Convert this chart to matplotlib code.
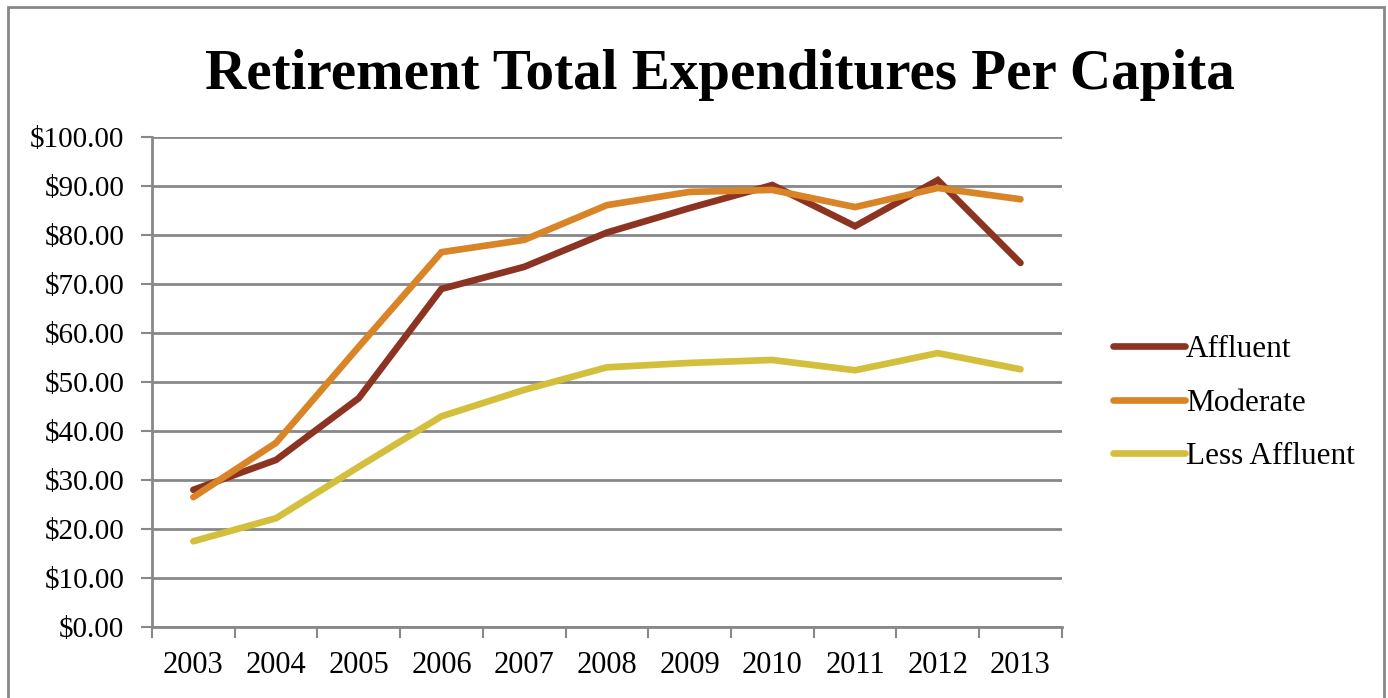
import matplotlib
matplotlib.use("Agg")
import matplotlib.pyplot as plt
from matplotlib.patches import Rectangle
from matplotlib.ticker import FuncFormatter, FixedLocator, NullFormatter

years = ["2003", "2004", "2005", "2006", "2007", "2008", "2009", "2010", "2011", "2012", "2013"]
affluent = [28.0, 34.1, 46.7, 69.0, 73.5, 80.5, 85.5, 90.2, 81.8, 91.2, 74.3]
moderate = [26.5, 37.6, 57.2, 76.5, 79.0, 86.1, 88.8, 89.2, 85.7, 89.6, 87.3]
less_affluent = [17.5, 22.2, 32.7, 43.0, 48.4, 53.0, 53.9, 54.5, 52.4, 55.9, 52.6]
series_names = ["Affluent", "Moderate", "Less Affluent"]
colors = ["#8C3322", "#DA8428", "#D4BF3C"]

plt.rcParams['font.family'] = ['Liberation Serif', 'DejaVu Serif']

fig = plt.figure(figsize=(13.88, 6.98), dpi=100)
fig.patch.set_facecolor("white")
fig.add_artist(Rectangle((0.006, -0.01), 0.991, 1.0, transform=fig.transFigure,
                         fill=False, edgecolor="#888888", linewidth=2))

ax = fig.add_axes([0.1095, 0.1017, 0.6555, 0.702])
x = list(range(len(years)))
for vals, name, c in zip([affluent, moderate, less_affluent], series_names, colors):
    ax.plot(x, vals, color=c, linewidth=4.8, solid_capstyle="round", solid_joinstyle="miter", label=name)

ax.set_xlim(-0.5, len(years) - 0.5)
ax.set_ylim(0, 100)
ax.set_yticks(range(0, 101, 10))
ax.yaxis.set_major_formatter(FuncFormatter(lambda v, p: f"${v:.2f}"))
ax.xaxis.set_major_locator(FixedLocator([i - 0.5 for i in range(len(years) + 1)]))
ax.xaxis.set_major_formatter(NullFormatter())
ax.xaxis.set_minor_locator(FixedLocator(x))
ax.set_xticklabels(years, minor=True)
ax.tick_params(axis="x", which="major", length=8, width=1.5, color="#888888", direction="out")
ax.tick_params(axis="x", which="minor", length=0, labelsize=22, pad=17)
ax.tick_params(axis="y", length=8, width=1.5, color="#888888", direction="out", labelsize=21, pad=12)
ax.grid(axis="y", color="#888888", linewidth=2)
ax.set_axisbelow(True)
for s in ["top", "right"]:
    ax.spines[s].set_visible(False)
for s in ["left", "bottom"]:
    ax.spines[s].set_color("#888888")
    ax.spines[s].set_linewidth(2)

fig.text(0.519, 0.893, "Retirement Total Expenditures Per Capita", ha="center", va="center",
         fontsize=41, fontweight="bold")

ax.legend(loc="center left", bbox_to_anchor=(1.025, 0.457), frameon=False, fontsize=22.5,
          handlelength=2.3, handletextpad=0.05, labelspacing=0.78)

fig.savefig("out.png", dpi=100)
